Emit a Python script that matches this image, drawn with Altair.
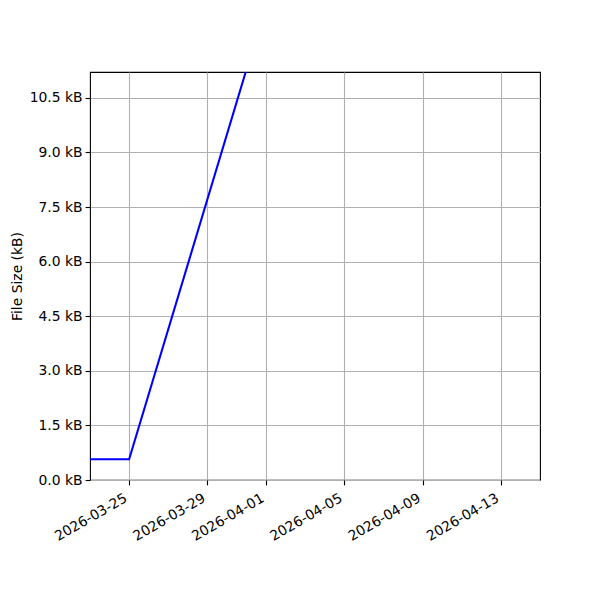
import altair as alt
import pandas as pd

dates = ["2026-03-23", "2026-03-25", "2026-04-01"]
sizes_kb = [0.57, 0.57, 13.07]
tick_dates = ["2026-03-25", "2026-03-29", "2026-04-01", "2026-04-05", "2026-04-09", "2026-04-13"]
y_ticks = [0.0, 1.5, 3.0, 4.5, 6.0, 7.5, 9.0, 10.5]
x_domain = ["2026-03-23", "2026-04-15"]
y_domain = [0, 11.21]

df = pd.DataFrame({"date": dates, "size": sizes_kb})

def dt(s):
    y, m, d = (int(p) for p in s.split("-"))
    return alt.DateTime(year=y, month=m, date=d, utc=True)

FONT = "DejaVu Sans"

chart = alt.Chart(df).mark_line(color="blue", strokeWidth=2.08, clip=True).encode(
    x=alt.X(
        "date:T",
        scale=alt.Scale(type="utc", domain=[dt(s) for s in x_domain]),
        axis=alt.Axis(
            values=[dt(s) for s in tick_dates],
            labelExpr="utcFormat(datum.value, '%Y-%m-%d')",
            labelAngle=330,
            labelAlign="right",
            labelBaseline="top",
            labelOffset=-7,
            labelPadding=6,
            title=None,
            grid=True,
        ),
    ),
    y=alt.Y(
        "size:Q",
        scale=alt.Scale(domain=y_domain, nice=False, zero=False),
        axis=alt.Axis(
            values=y_ticks,
            labelExpr="format(datum.value, '.1f') + ' kB'",
            title="File Size (kB)",
            titlePadding=5,
            labelPadding=3,
            grid=True,
        ),
    ),
).properties(
    width=450,
    height=408,
    autosize=alt.AutoSizeParams(type="none"),
    padding={"left": 82, "top": 64, "right": 52, "bottom": 112},
).configure_view(
    stroke="black", strokeWidth=1.1
).configure_axis(
    labelFont=FONT,
    titleFont=FONT,
    labelFontSize=13.9,
    titleFontSize=13.9,
    titleFontWeight="normal",
    labelColor="black",
    titleColor="black",
    domain=False,
    tickColor="black",
    tickSize=4.9,
    tickWidth=1.1,
    gridColor="#b0b0b0",
    gridWidth=1.1,
    labelFlush=False,
    labelOverlap=False,
)

chart.save("out.html", embed_options={"renderer": "svg", "actions": False})
